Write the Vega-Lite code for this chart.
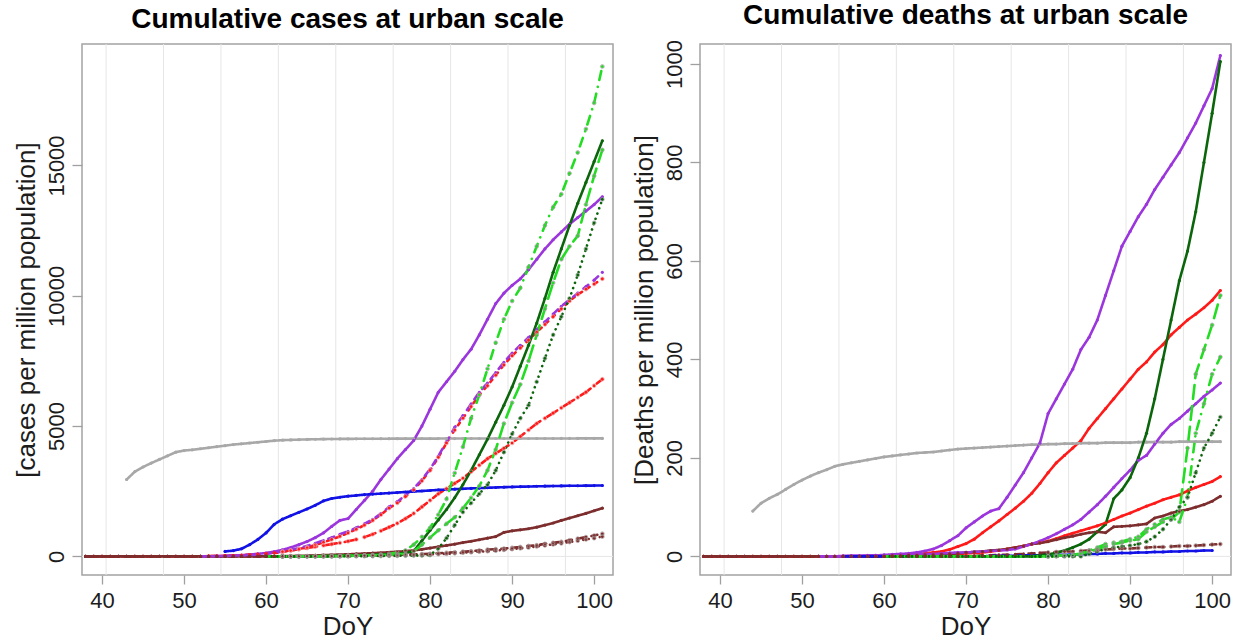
{
  "$schema": "https://vega.github.io/schema/vega-lite/v6.json",
  "background": "white",
  "padding": {"left": 12, "top": 0, "right": 5, "bottom": 0},
  "config": {
    "font": "Liberation Sans",
    "view": {"stroke": "#a3a3a3", "strokeWidth": 1.5},
    "axis": {
      "domain": false, "grid": false, "tickColor": "#a0a0a0", "tickWidth": 1.3,
      "labelFont": "Liberation Sans", "labelFontSize": 22, "labelColor": "#1c1c1c",
      "labelOverlap": false, "labelFlush": false,
      "titleFont": "Liberation Sans", "titleFontSize": 26, "titleFontWeight": "normal", "titleColor": "#1c1c1c"
    },
    "axisX": {"tickSize": 9, "labelPadding": 6, "titlePadding": 2},
    "axisY": {"tickSize": 10, "labelPadding": 4, "labelAngle": -90, "labelAlign": "center", "labelBaseline": "bottom", "titlePadding": 6},
    "title": {"font": "Liberation Sans", "fontSize": 28, "fontWeight": "bold", "color": "#000000", "anchor": "middle", "offset": 10}
  },
  "datasets": {
    "weeks": [{"g": 40.5}, {"g": 47.5}, {"g": 54.5}, {"g": 61.5}, {"g": 68.5}, {"g": 75.5}, {"g": 82.5}, {"g": 89.5}, {"g": 96.5}],
    "zero": [{"h": 0}],
    "cases": [
      {"d":38,"s5":0,"s6":0,"s11":0,"s12":0,"s13":0},
      {"d":39,"s5":0,"s6":0,"s11":0,"s12":0,"s13":0},
      {"d":40,"s5":0,"s6":0,"s11":0,"s12":0,"s13":0},
      {"d":41,"s5":0,"s6":0,"s11":0,"s12":0,"s13":0},
      {"d":42,"s5":0,"s6":0,"s11":0,"s12":0,"s13":0},
      {"d":43,"s1":2950,"s5":0,"s6":0,"s11":0,"s12":0,"s13":0},
      {"d":44,"s1":3250,"s5":0,"s6":0,"s11":0,"s12":0,"s13":0},
      {"d":45,"s1":3430,"s5":0,"s6":0,"s11":0,"s12":0,"s13":0},
      {"d":46,"s1":3580,"s5":0,"s6":0,"s11":0,"s12":0,"s13":0},
      {"d":47,"s1":3720,"s5":0,"s6":0,"s11":0,"s12":0,"s13":0},
      {"d":48,"s1":3860,"s5":0,"s6":0,"s11":0,"s12":0,"s13":0},
      {"d":49,"s1":4000,"s5":0,"s6":0,"s11":0,"s12":0,"s13":0},
      {"d":50,"s1":4060,"s5":0,"s6":0,"s11":0,"s12":0,"s13":0},
      {"d":51,"s1":4090,"s5":0,"s6":0,"s11":0,"s12":0,"s13":0},
      {"d":52,"s1":4130,"s3":0,"s4":0,"s5":5,"s6":5,"s11":0,"s12":0,"s13":0},
      {"d":53,"s1":4170,"s3":5,"s4":5,"s5":10,"s6":10,"s11":0,"s12":0,"s13":0},
      {"d":54,"s1":4210,"s3":10,"s4":10,"s5":15,"s6":15,"s11":0,"s12":0,"s13":0},
      {"d":55,"s1":4250,"s2":190,"s3":20,"s4":15,"s5":20,"s6":25,"s11":0,"s12":0,"s13":0},
      {"d":56,"s1":4290,"s2":220,"s3":30,"s4":25,"s5":30,"s6":35,"s11":0,"s12":0,"s13":0},
      {"d":57,"s1":4320,"s2":290,"s3":45,"s4":35,"s5":40,"s6":50,"s11":0,"s12":0,"s13":0},
      {"d":58,"s1":4350,"s2":450,"s3":65,"s4":50,"s5":55,"s6":70,"s11":0,"s12":0,"s13":0},
      {"d":59,"s1":4380,"s2":650,"s3":95,"s4":70,"s5":75,"s6":90,"s11":0,"s12":0,"s13":0},
      {"d":60,"s1":4410,"s2":900,"s3":130,"s4":100,"s5":100,"s6":120,"s7":0,"s8":0,"s9":0,"s10":0,"s11":0,"s12":0,"s13":0},
      {"d":61,"s1":4440,"s2":1230,"s3":180,"s4":140,"s5":130,"s6":150,"s7":0,"s8":0,"s9":0,"s10":0,"s11":5,"s12":0,"s13":0},
      {"d":62,"s1":4460,"s2":1430,"s3":250,"s4":190,"s5":170,"s6":190,"s7":0,"s8":0,"s9":0,"s10":0,"s11":10,"s12":0,"s13":0},
      {"d":63,"s1":4470,"s2":1560,"s3":340,"s4":250,"s5":220,"s6":230,"s7":0,"s8":0,"s9":0,"s10":0,"s11":15,"s12":5,"s13":3},
      {"d":64,"s1":4480,"s2":1690,"s3":450,"s4":320,"s5":280,"s6":270,"s7":0,"s8":0,"s9":0,"s10":0,"s11":20,"s12":10,"s13":5},
      {"d":65,"s1":4490,"s2":1820,"s3":570,"s4":400,"s5":350,"s6":320,"s7":5,"s8":5,"s9":5,"s10":0,"s11":30,"s12":12,"s13":8},
      {"d":66,"s1":4495,"s2":1960,"s3":720,"s4":500,"s5":440,"s6":370,"s7":5,"s8":5,"s9":5,"s10":0,"s11":40,"s12":15,"s13":10},
      {"d":67,"s1":4500,"s2":2130,"s3":900,"s4":610,"s5":540,"s6":420,"s7":10,"s8":10,"s9":10,"s10":0,"s11":50,"s12":18,"s13":12},
      {"d":68,"s1":4505,"s2":2220,"s3":1150,"s4":720,"s5":650,"s6":470,"s7":15,"s8":10,"s9":10,"s10":0,"s11":60,"s12":20,"s13":15},
      {"d":69,"s1":4508,"s2":2270,"s3":1380,"s4":850,"s5":770,"s6":520,"s7":20,"s8":15,"s9":15,"s10":0,"s11":70,"s12":25,"s13":18},
      {"d":70,"s1":4510,"s2":2310,"s3":1450,"s4":960,"s5":900,"s6":580,"s7":30,"s8":20,"s9":20,"s10":5,"s11":80,"s12":30,"s13":20},
      {"d":71,"s1":4512,"s2":2340,"s3":1800,"s4":1100,"s5":1040,"s6":650,"s7":40,"s8":30,"s9":25,"s10":5,"s11":95,"s12":35,"s13":25},
      {"d":72,"s1":4514,"s2":2370,"s3":2150,"s4":1250,"s5":1200,"s6":740,"s7":50,"s8":40,"s9":30,"s10":10,"s11":110,"s12":40,"s13":30},
      {"d":73,"s1":4515,"s2":2390,"s3":2500,"s4":1420,"s5":1380,"s6":850,"s7":60,"s8":50,"s9":40,"s10":10,"s11":125,"s12":45,"s13":35},
      {"d":74,"s1":4516,"s2":2410,"s3":2950,"s4":1640,"s5":1600,"s6":980,"s7":75,"s8":70,"s9":50,"s10":15,"s11":140,"s12":50,"s13":40},
      {"d":75,"s1":4517,"s2":2430,"s3":3350,"s4":1900,"s5":1850,"s6":1120,"s7":90,"s8":100,"s9":65,"s10":20,"s11":160,"s12":55,"s13":45},
      {"d":76,"s1":4518,"s2":2450,"s3":3750,"s4":2100,"s5":2050,"s6":1270,"s7":110,"s8":150,"s9":80,"s10":20,"s11":180,"s12":60,"s13":50},
      {"d":77,"s1":4519,"s2":2470,"s3":4100,"s4":2350,"s5":2300,"s6":1450,"s7":130,"s8":230,"s9":100,"s10":25,"s11":200,"s12":70,"s13":55},
      {"d":78,"s1":4520,"s2":2490,"s3":4450,"s4":2600,"s5":2550,"s6":1650,"s7":200,"s8":450,"s9":200,"s10":30,"s11":230,"s12":80,"s13":60},
      {"d":79,"s1":4520,"s2":2510,"s3":5000,"s4":2950,"s5":2900,"s6":1900,"s7":600,"s8":750,"s9":450,"s10":30,"s11":270,"s12":90,"s13":70},
      {"d":80,"s1":4521,"s2":2530,"s3":5650,"s4":3350,"s5":3300,"s6":2150,"s7":1000,"s8":1100,"s9":720,"s10":50,"s11":320,"s12":100,"s13":80},
      {"d":81,"s1":4521,"s2":2550,"s3":6300,"s4":3850,"s5":3800,"s6":2400,"s7":1400,"s8":1600,"s9":1000,"s10":300,"s11":370,"s12":120,"s13":90},
      {"d":82,"s1":4522,"s2":2565,"s3":6700,"s4":4400,"s5":4350,"s6":2600,"s7":1800,"s8":2200,"s9":1250,"s10":700,"s11":420,"s12":140,"s13":100},
      {"d":83,"s1":4522,"s2":2580,"s3":7100,"s4":4950,"s5":4850,"s6":2800,"s7":2250,"s8":3200,"s9":1500,"s10":1200,"s11":470,"s12":160,"s13":120},
      {"d":84,"s1":4523,"s2":2595,"s3":7550,"s4":5400,"s5":5300,"s6":3000,"s7":2750,"s8":4200,"s9":1850,"s10":1700,"s11":530,"s12":180,"s13":140},
      {"d":85,"s1":4523,"s2":2610,"s3":7950,"s4":5850,"s5":5750,"s6":3250,"s7":3300,"s8":5300,"s9":2250,"s10":2050,"s11":580,"s12":200,"s13":160},
      {"d":86,"s1":4523,"s2":2620,"s3":8500,"s4":6300,"s5":6200,"s6":3500,"s7":3900,"s8":6200,"s9":2700,"s10":2400,"s11":640,"s12":230,"s13":180},
      {"d":87,"s1":4524,"s2":2635,"s3":9100,"s4":6650,"s5":6550,"s6":3750,"s7":4500,"s8":7200,"s9":3300,"s10":2750,"s11":700,"s12":260,"s13":200},
      {"d":88,"s1":4524,"s2":2645,"s3":9700,"s4":7050,"s5":6950,"s6":3950,"s7":5150,"s8":8200,"s9":4100,"s10":3300,"s11":760,"s12":280,"s13":220},
      {"d":89,"s1":4524,"s2":2655,"s3":10100,"s4":7450,"s5":7350,"s6":4150,"s7":5800,"s8":9100,"s9":5100,"s10":4000,"s11":920,"s12":300,"s13":250},
      {"d":90,"s1":4525,"s2":2665,"s3":10400,"s4":7800,"s5":7700,"s6":4350,"s7":6500,"s8":9800,"s9":5900,"s10":4700,"s11":980,"s12":330,"s13":280},
      {"d":91,"s1":4525,"s2":2675,"s3":10650,"s4":8100,"s5":8000,"s6":4600,"s7":7300,"s8":10300,"s9":6600,"s10":5300,"s11":1020,"s12":360,"s13":310},
      {"d":92,"s1":4525,"s2":2680,"s3":11000,"s4":8400,"s5":8300,"s6":4850,"s7":8100,"s8":11100,"s9":7500,"s10":5800,"s11":1060,"s12":400,"s13":340},
      {"d":93,"s1":4525,"s2":2690,"s3":11400,"s4":8700,"s5":8600,"s6":5100,"s7":8950,"s8":11900,"s9":8500,"s10":6700,"s11":1120,"s12":430,"s13":380},
      {"d":94,"s1":4525,"s2":2695,"s3":11800,"s4":9000,"s5":8900,"s6":5300,"s7":9900,"s8":12700,"s9":9500,"s10":7600,"s11":1200,"s12":480,"s13":420},
      {"d":95,"s1":4525,"s2":2700,"s3":12150,"s4":9300,"s5":9200,"s6":5500,"s7":10900,"s8":13400,"s9":10500,"s10":8500,"s11":1280,"s12":520,"s13":460},
      {"d":96,"s1":4526,"s2":2705,"s3":12450,"s4":9600,"s5":9500,"s6":5700,"s7":11800,"s8":13900,"s9":11400,"s10":9200,"s11":1380,"s12":560,"s13":500},
      {"d":97,"s1":4526,"s2":2710,"s3":12750,"s4":9850,"s5":9800,"s6":5900,"s7":12700,"s8":14700,"s9":11900,"s10":9900,"s11":1470,"s12":620,"s13":550},
      {"d":98,"s1":4527,"s2":2712,"s3":13000,"s4":10100,"s5":10050,"s6":6100,"s7":13550,"s8":15500,"s9":12300,"s10":10800,"s11":1560,"s12":680,"s13":600},
      {"d":99,"s1":4527,"s2":2715,"s3":13250,"s4":10350,"s5":10250,"s6":6300,"s7":14350,"s8":16400,"s9":13500,"s10":11800,"s11":1650,"s12":740,"s13":650},
      {"d":100,"s1":4528,"s2":2718,"s3":13500,"s4":10600,"s5":10450,"s6":6550,"s7":15150,"s8":17400,"s9":14600,"s10":12800,"s11":1750,"s12":800,"s13":700},
      {"d":101,"s1":4528,"s2":2720,"s3":13800,"s4":10900,"s5":10650,"s6":6800,"s7":15950,"s8":18800,"s9":15600,"s10":13700,"s11":1850,"s12":870,"s13":760}
    ],
    "deaths": [
      {"d":38,"k5":0,"k10":0,"k11":0,"k12":0},
      {"d":39,"k5":0,"k10":0,"k11":0,"k12":0},
      {"d":40,"k5":0,"k10":0,"k11":0,"k12":0},
      {"d":41,"k5":0,"k10":0,"k11":0,"k12":0},
      {"d":42,"k5":0,"k10":0,"k11":0,"k12":0},
      {"d":43,"k5":0,"k10":0,"k11":0,"k12":0},
      {"d":44,"k1":92,"k5":0,"k10":0,"k11":0,"k12":0},
      {"d":45,"k1":108,"k5":0,"k10":0,"k11":0,"k12":0},
      {"d":46,"k1":118,"k5":0,"k10":0,"k11":0,"k12":0},
      {"d":47,"k1":126,"k5":0,"k10":0,"k11":0,"k12":0},
      {"d":48,"k1":136,"k5":0,"k10":0,"k11":0,"k12":0},
      {"d":49,"k1":146,"k5":0,"k10":0,"k11":0,"k12":0},
      {"d":50,"k1":155,"k5":0,"k10":0,"k11":0,"k12":0},
      {"d":51,"k1":163,"k5":0,"k10":0,"k11":0,"k12":0},
      {"d":52,"k1":170,"k3":0,"k8":0,"k5":0,"k10":0,"k11":0,"k12":0},
      {"d":53,"k1":176,"k3":0,"k8":0,"k5":0,"k10":0,"k11":0,"k12":0},
      {"d":54,"k1":183,"k3":0,"k8":0,"k5":0,"k10":0,"k11":0,"k12":0},
      {"d":55,"k1":187,"k2":0,"k3":1,"k8":0,"k5":0,"k10":0,"k11":0,"k12":0},
      {"d":56,"k1":190,"k2":0,"k3":1,"k8":1,"k5":0,"k10":0,"k11":0,"k12":0},
      {"d":57,"k1":193,"k2":0,"k3":1,"k8":1,"k5":0,"k10":0,"k11":0,"k12":0},
      {"d":58,"k1":196,"k2":0,"k3":2,"k8":1,"k5":0,"k10":0,"k11":0,"k12":0},
      {"d":59,"k1":199,"k2":0,"k3":2,"k8":2,"k5":0,"k10":0,"k11":0,"k12":0},
      {"d":60,"k1":202,"k2":0,"k3":3,"k4":0,"k5":0,"k6":0,"k7":0,"k8":2,"k9":0,"k10":0,"k11":0,"k12":0},
      {"d":61,"k1":204,"k2":0,"k3":4,"k4":0,"k5":1,"k6":0,"k7":0,"k8":2,"k9":0,"k10":1,"k11":1,"k12":0},
      {"d":62,"k1":206,"k2":0,"k3":5,"k4":0,"k5":2,"k6":0,"k7":0,"k8":3,"k9":0,"k10":1,"k11":1,"k12":0},
      {"d":63,"k1":208,"k2":0,"k3":6,"k4":0,"k5":3,"k6":0,"k7":0,"k8":3,"k9":0,"k10":2,"k11":2,"k12":0},
      {"d":64,"k1":210,"k2":0,"k3":8,"k4":0,"k5":4,"k6":0,"k7":0,"k8":4,"k9":0,"k10":2,"k11":2,"k12":0},
      {"d":65,"k1":211,"k2":0,"k3":11,"k4":0,"k5":6,"k6":0,"k7":0,"k8":5,"k9":0,"k10":3,"k11":3,"k12":0},
      {"d":66,"k1":212,"k2":0,"k3":15,"k4":0,"k5":8,"k6":0,"k7":0,"k8":5,"k9":0,"k10":3,"k11":3,"k12":0},
      {"d":67,"k1":214,"k2":0,"k3":22,"k4":0,"k5":10,"k6":0,"k7":0,"k8":6,"k9":0,"k10":4,"k11":4,"k12":0},
      {"d":68,"k1":216,"k2":0,"k3":32,"k4":0,"k5":14,"k6":0,"k7":0,"k8":7,"k9":0,"k10":5,"k11":5,"k12":0},
      {"d":69,"k1":218,"k2":0,"k3":42,"k4":0,"k5":20,"k6":0,"k7":0,"k8":8,"k9":0,"k10":5,"k11":6,"k12":0},
      {"d":70,"k1":219,"k2":0,"k3":58,"k4":0,"k5":26,"k6":0,"k7":0,"k8":8,"k9":0,"k10":6,"k11":8,"k12":0},
      {"d":71,"k1":220,"k2":0,"k3":70,"k4":0,"k5":35,"k6":0,"k7":0,"k8":9,"k9":0,"k10":7,"k11":9,"k12":1},
      {"d":72,"k1":221,"k2":0,"k3":82,"k4":0,"k5":48,"k6":0,"k7":0,"k8":10,"k9":0,"k10":8,"k11":10,"k12":2},
      {"d":73,"k1":222,"k2":1,"k3":92,"k4":0,"k5":60,"k6":0,"k7":0,"k8":11,"k9":0,"k10":10,"k11":12,"k12":2},
      {"d":74,"k1":223,"k2":1,"k3":97,"k4":0,"k5":72,"k6":0,"k7":0,"k8":12,"k9":0,"k10":12,"k11":13,"k12":3},
      {"d":75,"k1":224,"k2":1,"k3":120,"k4":0,"k5":85,"k6":0,"k7":0,"k8":13,"k9":0,"k10":15,"k11":15,"k12":3},
      {"d":76,"k1":225,"k2":1,"k3":145,"k4":0,"k5":98,"k6":0,"k7":0,"k8":15,"k9":0,"k10":18,"k11":18,"k12":4},
      {"d":77,"k1":226,"k2":2,"k3":170,"k4":0,"k5":112,"k6":0,"k7":0,"k8":20,"k9":0,"k10":21,"k11":21,"k12":5},
      {"d":78,"k1":227,"k2":2,"k3":200,"k4":0,"k5":128,"k6":0,"k7":0,"k8":25,"k9":0,"k10":25,"k11":25,"k12":6},
      {"d":79,"k1":227,"k2":2,"k3":230,"k4":2,"k5":148,"k6":0,"k7":0,"k8":31,"k9":0,"k10":28,"k11":27,"k12":7},
      {"d":80,"k1":228,"k2":3,"k3":290,"k4":4,"k5":170,"k6":0,"k7":0,"k8":38,"k9":0,"k10":31,"k11":30,"k12":8},
      {"d":81,"k1":228,"k2":3,"k3":320,"k4":7,"k5":190,"k6":1,"k7":1,"k8":46,"k9":0,"k10":36,"k11":34,"k12":9},
      {"d":82,"k1":229,"k2":3,"k3":350,"k4":12,"k5":205,"k6":2,"k7":2,"k8":55,"k9":0,"k10":42,"k11":38,"k12":10},
      {"d":83,"k1":229,"k2":4,"k3":380,"k4":18,"k5":220,"k6":3,"k7":3,"k8":64,"k9":0,"k10":47,"k11":41,"k12":10},
      {"d":84,"k1":230,"k2":4,"k3":420,"k4":25,"k5":235,"k6":5,"k7":6,"k8":75,"k9":0,"k10":52,"k11":45,"k12":11},
      {"d":85,"k1":230,"k2":5,"k3":445,"k4":35,"k5":260,"k6":10,"k7":12,"k8":90,"k9":5,"k10":57,"k11":48,"k12":12},
      {"d":86,"k1":230,"k2":5,"k3":480,"k4":50,"k5":280,"k6":15,"k7":18,"k8":105,"k9":10,"k10":62,"k11":50,"k12":13},
      {"d":87,"k1":231,"k2":6,"k3":530,"k4":65,"k5":300,"k6":20,"k7":25,"k8":122,"k9":15,"k10":68,"k11":48,"k12":14},
      {"d":88,"k1":231,"k2":6,"k3":580,"k4":117,"k5":320,"k6":25,"k7":28,"k8":140,"k9":18,"k10":75,"k11":60,"k12":15},
      {"d":89,"k1":231,"k2":7,"k3":630,"k4":135,"k5":340,"k6":28,"k7":30,"k8":158,"k9":20,"k10":82,"k11":61,"k12":16},
      {"d":90,"k1":231,"k2":7,"k3":660,"k4":160,"k5":360,"k6":32,"k7":35,"k8":175,"k9":22,"k10":88,"k11":62,"k12":16},
      {"d":91,"k1":232,"k2":8,"k3":690,"k4":200,"k5":380,"k6":35,"k7":40,"k8":195,"k9":25,"k10":95,"k11":64,"k12":17},
      {"d":92,"k1":232,"k2":8,"k3":715,"k4":250,"k5":395,"k6":50,"k7":55,"k8":205,"k9":30,"k10":102,"k11":66,"k12":18},
      {"d":93,"k1":232,"k2":9,"k3":745,"k4":320,"k5":415,"k6":60,"k7":65,"k8":228,"k9":40,"k10":108,"k11":78,"k12":19},
      {"d":94,"k1":232,"k2":9,"k3":770,"k4":400,"k5":430,"k6":70,"k7":75,"k8":250,"k9":55,"k10":115,"k11":82,"k12":19},
      {"d":95,"k1":232,"k2":10,"k3":795,"k4":480,"k5":450,"k6":75,"k7":80,"k8":268,"k9":75,"k10":120,"k11":88,"k12":20},
      {"d":96,"k1":233,"k2":10,"k3":820,"k4":560,"k5":465,"k6":90,"k7":70,"k8":280,"k9":100,"k10":125,"k11":92,"k12":21},
      {"d":97,"k1":233,"k2":11,"k3":850,"k4":620,"k5":480,"k6":220,"k7":120,"k8":295,"k9":120,"k10":133,"k11":95,"k12":21},
      {"d":98,"k1":233,"k2":11,"k3":880,"k4":700,"k5":492,"k6":370,"k7":250,"k8":310,"k9":170,"k10":140,"k11":100,"k12":22},
      {"d":99,"k1":233,"k2":12,"k3":915,"k4":800,"k5":505,"k6":420,"k7":310,"k8":325,"k9":220,"k10":146,"k11":105,"k12":23},
      {"d":100,"k1":233,"k2":12,"k3":950,"k4":900,"k5":520,"k6":470,"k7":370,"k8":338,"k9":250,"k10":152,"k11":112,"k12":24},
      {"d":101,"k1":233,"k3":1017,"k4":1005,"k5":540,"k6":530,"k7":405,"k8":352,"k9":283,"k10":162,"k11":122,"k12":25}
    ]
  },
  "spacing": 87,
  "bounds": "flush",
  "resolve": {"scale": {"x": "independent", "y": "independent", "color": "independent", "strokeDash": "independent", "stroke": "independent"}},
  "hconcat": [
    {
      "title": {"text": "Cumulative cases at urban scale"},
      "width": 531,
      "height": 531,
      "layer": [
        {
          "data": {"name": "weeks"},
          "mark": {"type": "rule", "color": "#e6e6e6", "strokeWidth": 1},
          "encoding": {
            "x": {"field": "g", "type": "quantitative", "title": "DoY", "scale": {"domain": [37.56, 102.3], "nice": false, "zero": false}}
          }
        },
        {
          "data": {"name": "zero"},
          "mark": {"type": "rule", "color": "#e6e6e6", "strokeWidth": 1},
          "encoding": {
            "y": {"field": "h", "type": "quantitative", "title": "[cases per million population]", "scale": {"domain": [-714, 19662], "nice": false, "zero": false}}
          }
        },
        {
          "data": {"name": "cases"},
          "transform": [
            {"fold": ["s1","s2","s3","s4","s5","s6","s7","s8","s9","s10","s11","s12","s13"], "as": ["series", "value"]},
            {"filter": "isValid(datum.value)"}
          ],
          "mark": {"type": "line", "strokeWidth": 2.6, "strokeCap": "round", "strokeJoin": "round"},
          "encoding": {
            "x": {"field": "d", "type": "quantitative", "title": "DoY", "scale": {"domain": [37.56, 102.3], "nice": false, "zero": false}, "axis": {"values": [40, 50, 60, 70, 80, 90, 100], "format": "d"}},
            "y": {"field": "value", "type": "quantitative", "title": "[cases per million population]", "scale": {"domain": [-714, 19662], "nice": false, "zero": false}, "axis": {"values": [0, 5000, 10000, 15000], "format": "d"}},
            "color": {"field": "series", "type": "nominal", "legend": null, "scale": {
              "domain": ["s1","s2","s3","s4","s5","s6","s7","s8","s9","s10","s11","s12","s13"],
              "range": ["#a8a8a8","#1212e6","#9b35dc","#9b35dc","#ff1a1a","#ff1a1a","#0b650b","#22dd22","#22dd22","#0b650b","#7d2d2d","#7d2d2d","#7d2d2d"]}},
            "strokeDash": {"field": "series", "type": "nominal", "legend": null, "scale": {
              "domain": ["s1","s2","s3","s4","s5","s6","s7","s8","s9","s10","s11","s12","s13"],
              "range": [[1,0],[1,0],[1,0],[6,7],[3,6],[12,8],[1,0],[0.1,7,9,7],[14,7],[0.1,5.5],[1,0],[6,7],[0.1,5.5]]}}
          }
        },
        {
          "data": {"name": "cases"},
          "transform": [
            {"fold": ["s1","s2","s3","s4","s5","s6","s7","s8","s9","s10","s11","s12","s13"], "as": ["series", "value"]},
            {"filter": "isValid(datum.value)"}
          ],
          "mark": {"type": "point", "filled": true, "size": 10, "opacity": 1},
          "encoding": {
            "x": {"field": "d", "type": "quantitative", "title": "DoY"},
            "y": {"field": "value", "type": "quantitative", "title": "[cases per million population]"},
            "color": {"field": "series", "type": "nominal", "legend": null}
          }
        },
        {
          "data": {"name": "cases"},
          "transform": [
            {"fold": ["s5","s6","s8","s9","s10","s12","s13"], "as": ["series", "value"]},
            {"filter": "isValid(datum.value) && datum.d >= 62"}
          ],
          "mark": {"type": "point", "filled": false, "size": 14, "strokeWidth": 0.8, "opacity": 0.9},
          "encoding": {
            "x": {"field": "d", "type": "quantitative", "title": "DoY"},
            "y": {"field": "value", "type": "quantitative", "title": "[cases per million population]"},
            "stroke": {"field": "series", "type": "nominal", "legend": null, "scale": {
              "domain": ["s5","s6","s8","s9","s10","s12","s13"],
              "range": ["#f29a9a","#f29a9a","#999999","#999999","#8a9a8a","#a08a8a","#a08a8a"]}}
          }
        }
      ]
    },
    {
      "title": {"text": "Cumulative deaths at urban scale"},
      "width": 531,
      "height": 531,
      "layer": [
        {
          "data": {"name": "weeks"},
          "mark": {"type": "rule", "color": "#e6e6e6", "strokeWidth": 1},
          "encoding": {
            "x": {"field": "g", "type": "quantitative", "title": "DoY", "scale": {"domain": [37.56, 102.3], "nice": false, "zero": false}}
          }
        },
        {
          "data": {"name": "zero"},
          "mark": {"type": "rule", "color": "#e6e6e6", "strokeWidth": 1},
          "encoding": {
            "y": {"field": "h", "type": "quantitative", "title": "[Deaths per million population]", "scale": {"domain": [-37.8, 1040.6], "nice": false, "zero": false}}
          }
        },
        {
          "data": {"name": "deaths"},
          "transform": [
            {"fold": ["k1","k2","k3","k4","k5","k6","k7","k8","k9","k10","k11","k12"], "as": ["series", "value"]},
            {"filter": "isValid(datum.value)"}
          ],
          "mark": {"type": "line", "strokeWidth": 2.6, "strokeCap": "round", "strokeJoin": "round"},
          "encoding": {
            "x": {"field": "d", "type": "quantitative", "title": "DoY", "scale": {"domain": [37.56, 102.3], "nice": false, "zero": false}, "axis": {"values": [40, 50, 60, 70, 80, 90, 100], "format": "d"}},
            "y": {"field": "value", "type": "quantitative", "title": "[Deaths per million population]", "scale": {"domain": [-37.8, 1040.6], "nice": false, "zero": false}, "axis": {"values": [0, 200, 400, 600, 800, 1000], "format": "d"}},
            "color": {"field": "series", "type": "nominal", "legend": null, "scale": {
              "domain": ["k1","k2","k3","k4","k5","k6","k7","k8","k9","k10","k11","k12"],
              "range": ["#a8a8a8","#1212e6","#9b35dc","#0b650b","#ff1a1a","#22dd22","#22dd22","#9b35dc","#0b650b","#ff1a1a","#7d2d2d","#7d2d2d"]}},
            "strokeDash": {"field": "series", "type": "nominal", "legend": null, "scale": {
              "domain": ["k1","k2","k3","k4","k5","k6","k7","k8","k9","k10","k11","k12"],
              "range": [[1,0],[1,0],[1,0],[1,0],[1,0],[14,7],[0.1,7,9,7],[1,0],[0.1,5.5],[1,0],[1,0],[6,7]]}}
          }
        },
        {
          "data": {"name": "deaths"},
          "transform": [
            {"fold": ["k1","k2","k3","k4","k5","k6","k7","k8","k9","k10","k11","k12"], "as": ["series", "value"]},
            {"filter": "isValid(datum.value)"}
          ],
          "mark": {"type": "point", "filled": true, "size": 10, "opacity": 1},
          "encoding": {
            "x": {"field": "d", "type": "quantitative", "title": "DoY"},
            "y": {"field": "value", "type": "quantitative", "title": "[Deaths per million population]"},
            "color": {"field": "series", "type": "nominal", "legend": null}
          }
        },
        {
          "data": {"name": "deaths"},
          "transform": [
            {"fold": ["k6","k7","k9","k12"], "as": ["series", "value"]},
            {"filter": "isValid(datum.value) && datum.d >= 80"}
          ],
          "mark": {"type": "point", "filled": false, "size": 14, "strokeWidth": 0.8, "opacity": 0.9},
          "encoding": {
            "x": {"field": "d", "type": "quantitative", "title": "DoY"},
            "y": {"field": "value", "type": "quantitative", "title": "[Deaths per million population]"},
            "stroke": {"field": "series", "type": "nominal", "legend": null, "scale": {
              "domain": ["k6","k7","k9","k12"],
              "range": ["#999999","#999999","#8a9a8a","#a08a8a"]}}
          }
        }
      ]
    }
  ]
}
